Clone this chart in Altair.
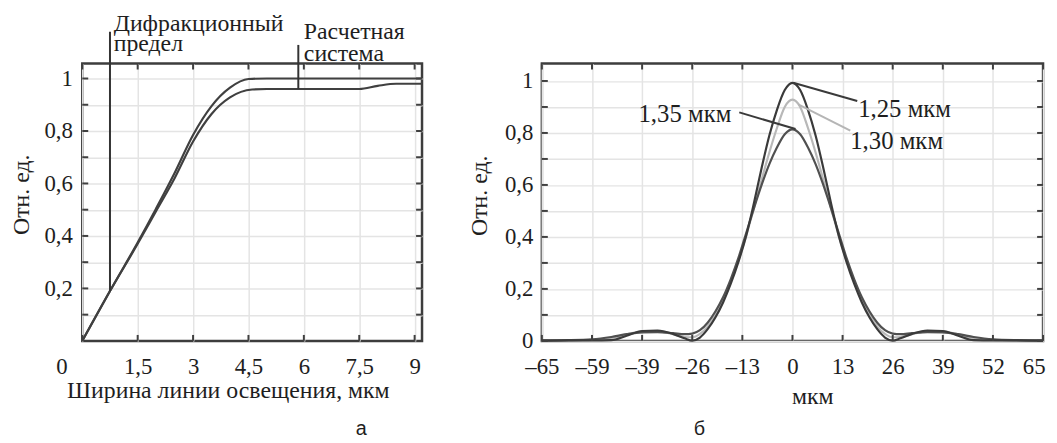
import altair as alt
import pandas as pd

FONT = "'Liberation Serif', 'Times New Roman', Times, 'DejaVu Serif', serif"
SANS = "'Liberation Sans', Arial, sans-serif"
INK = "#1e1e1e"
LINE = "#404040"

# ---------------- panel а ----------------
a_upper_x = [0, 0.75, 1.5, 2.0, 2.5, 3.0, 3.5, 4.0, 4.5, 5.0, 6.0, 7.5, 9.2]
a_upper_y = [0, 0.19, 0.375, 0.505, 0.64, 0.785, 0.895, 0.965, 0.998, 1.0, 1.0, 1.0, 1.0]
a_lower_x = [0, 0.75, 1.5, 2.0, 2.5, 3.0, 3.5, 4.0, 4.6, 5.0, 6.0, 7.5, 8.0, 8.5, 9.2]
a_lower_y = [0, 0.19, 0.37, 0.495, 0.62, 0.76, 0.865, 0.928, 0.958, 0.96, 0.96, 0.96, 0.972, 0.98, 0.98]
a_xticks = [0, 1.5, 3, 4.5, 6, 7.5, 9]
a_yticks = [0.1, 0.2, 0.3, 0.4, 0.5, 0.6, 0.7, 0.8, 0.9, 1.0]
a_marks_x = [0.75, 5.85]          # annotation lines
a_marks_y = [0.19, 0.96]
a_marks_y2 = [1.178, 1.128]

# ---------------- panel б ----------------
b_x = [-65, -58, -52, -47, -43, -39, -35, -31, -28, -26, -24, -22, -20, -18, -16, -14, -12, -10, -8, -6, -4, -2,
       0, 2, 4, 6, 8, 10, 12, 14, 16, 18, 20, 22, 24, 26, 28, 31, 35, 39, 43, 47, 52, 58, 65]
b_125 = [0.001, 0.002, 0.002, 0.003, 0.02, 0.038, 0.04, 0.027, 0.01, 0.001, 0.013, 0.045, 0.09, 0.148, 0.22, 0.305, 0.405, 0.53, 0.665, 0.79, 0.89, 0.965,
         0.993, 0.965, 0.89, 0.79, 0.665, 0.53, 0.405, 0.305, 0.22, 0.148, 0.09, 0.045, 0.013, 0.001, 0.01, 0.027, 0.04, 0.038, 0.02, 0.003, 0.002, 0.002, 0.001]
b_130 = [0.001, 0.002, 0.004, 0.01, 0.025, 0.036, 0.036, 0.026, 0.015, 0.014, 0.027, 0.055, 0.10, 0.158, 0.228, 0.31, 0.405, 0.51, 0.62, 0.725, 0.82, 0.90,
         0.928, 0.90, 0.82, 0.725, 0.62, 0.51, 0.405, 0.31, 0.228, 0.158, 0.10, 0.055, 0.027, 0.014, 0.015, 0.026, 0.036, 0.036, 0.025, 0.01, 0.004, 0.002, 0.001]
b_135 = [0.002, 0.003, 0.006, 0.015, 0.026, 0.033, 0.034, 0.03, 0.026, 0.028, 0.041, 0.07, 0.113, 0.168, 0.238, 0.32, 0.415, 0.51, 0.60, 0.68, 0.745, 0.795,
         0.814, 0.795, 0.745, 0.68, 0.60, 0.51, 0.415, 0.32, 0.238, 0.168, 0.113, 0.07, 0.041, 0.028, 0.026, 0.03, 0.034, 0.033, 0.026, 0.015, 0.006, 0.003, 0.002]
b_xticks = [-65, -52, -39, -26, -13, 0, 13, 26, 39, 52, 65]
b_yticks = [0, 0.1, 0.2, 0.3, 0.4, 0.5, 0.6, 0.7, 0.8, 0.9, 1.0]
b_labels = ["1,25 мкм", "1,30 мкм", "1,35 мкм"]
b_lead_x = [0.2, 1.5, -13.8]
b_lead_y = [0.993, 0.91, 0.879]
b_lead_x2 = [16.8, 15.0, 0.8]
b_lead_y2 = [0.923, 0.809, 0.815]

AW, AH = 343, 280
BW, BH = 506, 280
TL = 6

ylab = ("datum.value == 0 ? '0' : datum.value == 1 ? '1' : "
        "(round(datum.value*10) % 2 == 0 ? replace(format(datum.value, '.1f'), '.', ',') : '')")

a_xs = alt.Scale(domain=[0, 9.2], nice=False, zero=False)
a_ys = alt.Scale(domain=[0, 1.057], nice=False, zero=False)
b_xs = alt.Scale(domain=[-65, 65], nice=False, zero=False)
b_ys = alt.Scale(domain=[0, 1.067], nice=False, zero=False)

a_xaxis = alt.Axis(values=a_xticks, labelExpr="replace(toString(datum.value), '.', ',')",
                   labelOffset={"condition": {"test": "datum.value == 0", "value": -21}, "value": 0},
                   title="Ширина линии освещения, мкм", titleX=147, titleY=57, titleBaseline="alphabetic",
                   labelPadding=15)
a_yaxis = alt.Axis(values=a_yticks, labelExpr=ylab, title="Отн. ед.", titleX=-61, titleY=132,
                   titleBaseline="middle", titleAngle=-90, labelPadding=10)
b_xaxis = alt.Axis(values=b_xticks,
                   labelExpr="datum.value == -52 ? '–59' : (datum.value < 0 ? '–' + toString(abs(datum.value)) : toString(datum.value))",
                   labelAlign={"condition": {"test": "datum.value == 65", "value": "right"}, "value": "center"},
                   labelOffset={"condition": {"test": "datum.value == 65", "value": 2}, "value": 0},
                   title="мкм", titleX=273, titleY=63, titleBaseline="alphabetic", labelPadding=15)
b_yaxis = alt.Axis(values=b_yticks, labelExpr=ylab, title="Отн. ед.", titleX=-63, titleY=133,
                   titleBaseline="middle", titleAngle=-90, labelPadding=9)


def text_mark(text, x, y, align="left", baseline="alphabetic", size=24, font=FONT, color=INK):
    return alt.Chart(alt.Data(values=[{}])).mark_text(
        text=text, align=align, baseline=baseline, fontSize=size, font=font, color=color
    ).encode(x=alt.value(x), y=alt.value(y))


def ticks(xvals, yvals, xs, ys, xaxis, yaxis, W, H):
    dx = pd.DataFrame({"v": xvals})
    dy = pd.DataFrame({"v": yvals})
    base_x = alt.Chart(dx).mark_rule(color=LINE, strokeWidth=2)
    base_y = alt.Chart(dy).mark_rule(color=LINE, strokeWidth=2)
    X = alt.X("v:Q", scale=xs, axis=xaxis)
    Y = alt.Y("v:Q", scale=ys, axis=yaxis)
    return [
        base_x.encode(x=X, y=alt.value(0), y2=alt.value(TL)),
        base_x.encode(x=X, y=alt.value(H), y2=alt.value(H - TL)),
        base_y.encode(y=Y, x=alt.value(0), x2=alt.value(TL)),
        base_y.encode(y=Y, x=alt.value(W), x2=alt.value(W - TL)),
    ]


# ----- panel а layers -----
ax = alt.X("x:Q", scale=a_xs, axis=a_xaxis)
ay = alt.Y("y:Q", scale=a_ys, axis=a_yaxis)
a_up = alt.Chart(pd.DataFrame({"x": a_upper_x, "y": a_upper_y})).mark_line(
    color=LINE, strokeWidth=2.2, interpolate="monotone").encode(x=ax, y=ay)
a_lo = alt.Chart(pd.DataFrame({"x": a_lower_x, "y": a_lower_y})).mark_line(
    color=LINE, strokeWidth=2.2, interpolate="monotone").encode(x=ax, y=ay)
a_vl = alt.Chart(pd.DataFrame({"x": a_marks_x, "y": a_marks_y, "y2": a_marks_y2})).mark_rule(
    color="#333333", strokeWidth=2).encode(x=ax, y=ay, y2="y2:Q")

panel_a = alt.layer(
    a_up, a_lo, a_vl,
    *ticks(a_xticks, a_yticks, a_xs, a_ys, a_xaxis, a_yaxis, AW, AH),
    text_mark("Дифракционный", 31.7, -33),
    text_mark("предел", 31.7, -13),
    text_mark("Расчетная", 223.7, -25),
    text_mark("система", 223.7, -3),
    text_mark("а", 281.7, 375, align="center", size=20, font=SANS),
).properties(width=AW, height=AH)

# ----- panel б layers -----
bx = alt.X("x:Q", scale=b_xs, axis=b_xaxis)
by = alt.Y("y:Q", scale=b_ys, axis=b_yaxis)


def b_line(vals, color, w):
    return alt.Chart(pd.DataFrame({"x": b_x, "y": vals})).mark_line(
        color=color, strokeWidth=w, interpolate="monotone").encode(x=bx, y=by)


lead_df = pd.DataFrame({"x": b_lead_x, "y": b_lead_y, "x2": b_lead_x2, "y2": b_lead_y2, "s": b_labels})
b_leads = alt.Chart(lead_df).mark_rule(strokeWidth=2).encode(
    x=bx, y=by, x2="x2:Q", y2="y2:Q",
    color=alt.Color("s:N", scale=alt.Scale(domain=b_labels, range=["#3a3a3a", "#b5b5b5", "#3a3a3a"]), legend=None))

panel_b = alt.layer(
    b_line(b_130, "#b8b8b8", 2.2),
    b_line(b_135, "#505050", 2.2),
    b_line(b_125, "#3a3a3a", 2.2),
    b_leads,
    *ticks(b_xticks, b_yticks, b_xs, b_ys, b_xaxis, b_yaxis, BW, BH),
    text_mark("1,25 мкм", 319.3, 46, baseline="middle", size=25),
    text_mark("1,30 мкм", 311.3, 78, baseline="middle", size=25),
    text_mark("1,35 мкм", 191.3, 51, align="right", baseline="middle", size=25),
    text_mark("б", 159, 375, align="center", size=20, font=SANS),
).properties(width=BW, height=BH)

chart = alt.hconcat(panel_a, panel_b, spacing=38).properties(
    padding={"left": 0, "top": 0, "right": 0, "bottom": 0}
).configure(font=FONT).configure_axis(
    labelFont=FONT, labelFontSize=23, labelColor=INK, titleFont=FONT, titleFontSize=24,
    titleFontWeight="normal", titleColor=INK, gridColor="#e4e4e4", gridWidth=1.5,
    grid=True, ticks=False, domain=False, labelAngle=0, labelOverlap=False, labelFlush=False
).configure_view(stroke="#3d3d3d", strokeWidth=2.5)

chart.save("out.html", embed_options={"renderer": "svg", "actions": False})
